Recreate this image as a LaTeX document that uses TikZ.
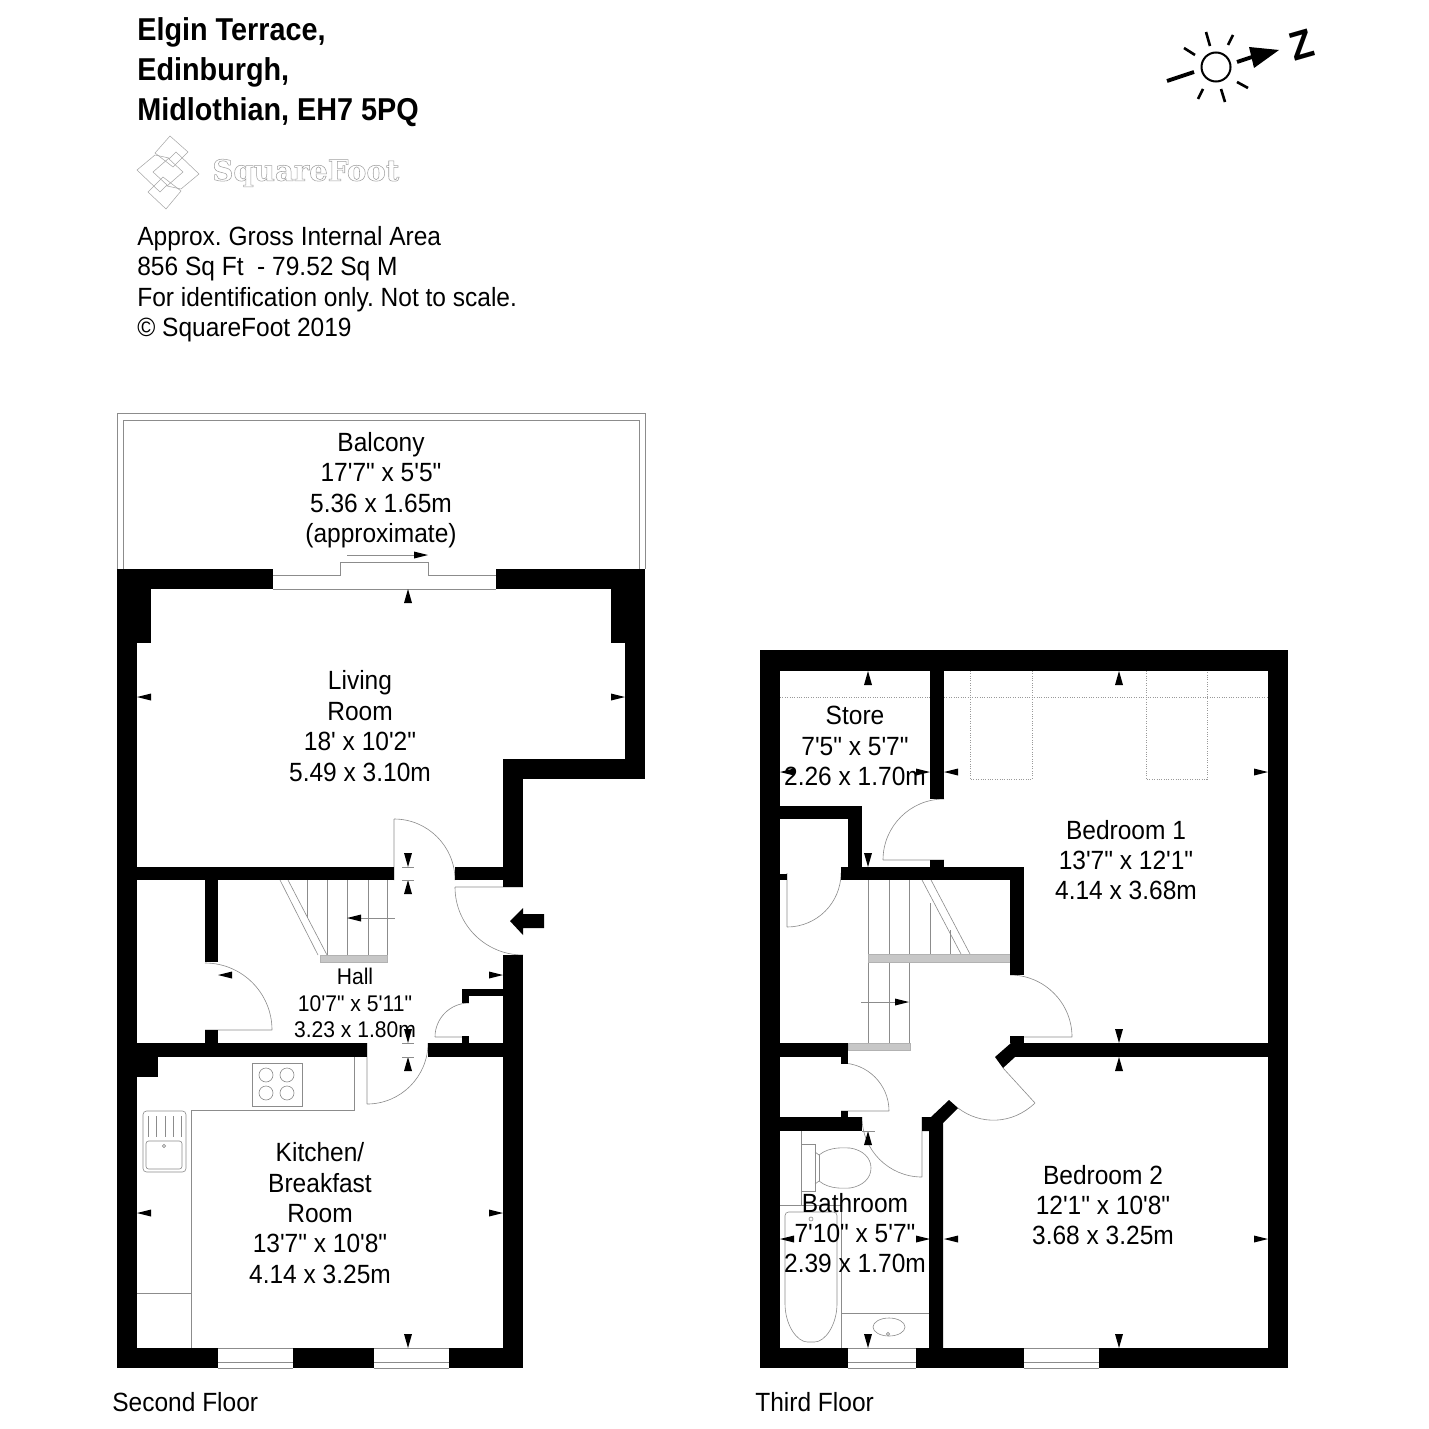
\documentclass[tikz,border=0pt]{standalone}
\usepackage{fontspec}
\setmainfont[Ligatures=TeXOff,FakeStretch=0.93]{Liberation Sans}
\newfontfamily\titlefont[FakeStretch=0.91]{Liberation Sans Bold}
\newfontfamily\logofont{DejaVu Serif}
\tikzset{
  x=0.02cm,y=-0.02cm,
  thinline/.style={draw=black!45,line width=0.35pt},
  roofline/.style={draw=black!40,line width=0.35pt,densely dotted},
  treadband/.style={fill=black!22,draw=black!30,line width=0.3pt},
  logoline/.style={draw=black!35,line width=0.3pt},
  roomlabel/.style={align=center,inner sep=0pt,font=\fontsize{15}{17.3}\selectfont},
  halllabel/.style={align=center,inner sep=0pt,font=\fontsize{12.9}{15}\selectfont},
  sidelabel/.style={align=left,inner sep=0pt,anchor=north west,font=\fontsize{15}{17.3}\selectfont\frenchspacing},
  titlelabel/.style={align=left,inner sep=0pt,anchor=north west,font=\fontsize{18}{22.8}\selectfont\titlefont},
}
\begin{document}
\begin{tikzpicture}
\useasboundingbox (0,0) rectangle (1429,1429);

% door leaf and swing: hinge x/y, swing from, swing to, radius, leaf angle
\foreach \cx/\cy/\a/\b/\r/\l in {394/880/-90/0/61/-90,523/887/180/90/68/180,205/1030/-90/0/67/0,469/1037/-90/-180/34/180,367/1043/90/0/61/90,
    944/860/-90/-180/61/180,787/873/90/0/54/90,1010/1037/-90/0/62/0,841/1111/-90/0/48/0,922/1117/90/180/60/90}{
  \draw[thinline] (\cx,\cy) -- +(\l:\r) (\cx,\cy) ++(\a:\r) arc[start angle=\a,end angle=\b,radius=\r];
}
\draw[thinline] (1003,1068) -- (1035,1103) .. controls (1012,1125) and (980,1125) .. (958,1108);

% balcony
\draw[thinline] (117,569) -- (117,413) -- (645,413) -- (645,569);
\draw[thinline] (123,569) -- (123,420) -- (639,420) -- (639,569);

% windows, second floor
\draw[thinline] (273,575) -- (340,575) -- (340,562) -- (428,562) -- (428,575) -- (496,575);
\draw[thinline] (273,589) -- (496,589);
\draw[thinline] (347,555) -- (415,555);
\foreach \xa/\xb in {218/293,374/449,848/916,1024/1099}{
  \draw[thinline] (\xa,1348) -- (\xb,1348);
  \draw[thinline] (\xa,1362) -- (\xb,1362);
  \draw[thinline] (\xa,1368) -- (\xb,1368);
}

% stairs, second floor
\foreach \x/\y in {307/918,327/955,347/955,368/955,387/955}{
  \draw[thinline] (\x,880) -- (\x,\y);
}
\draw[thinline] (280,880) -- (318,955);
\draw[thinline] (288,880) -- (327,955);
\draw[treadband] (320,955) rectangle (387,962);
\draw[thinline] (361,918) -- (395,918);

% stairs, third floor
\foreach \x in {868,889,909}{
  \draw[thinline] (\x,880) -- (\x,1043);
}
\draw[thinline] (930,903) -- (930,954);
\draw[thinline] (950,930) -- (950,954);
\draw[thinline] (922,880) -- (961,954);
\draw[thinline] (931,880) -- (970,954);
\draw[treadband] (868,954) rectangle (1010,962);
\draw[treadband] (848,1043) rectangle (910,1050);
\draw[thinline] (861,1002) -- (895,1002);

% kitchen fittings
\draw[thinline] (354,1057) -- (354,1110) -- (191,1110) -- (191,1348);
\draw[thinline] (137,1293) -- (191,1293);
\draw[thinline] (252,1063) rectangle (302,1106);
\foreach \x in {266,287}{
  \foreach \y in {1075,1093}{
    \draw[thinline] (\x,\y) circle[radius=7];
  }
}
\draw[thinline,rounded corners=2pt] (143,1111) rectangle (186,1172);
\draw[thinline,rounded corners=1.5pt] (146,1141) rectangle (182,1169);
\foreach \x in {148,156,165,173,181}{
  \draw[thinline] (\x,1116) -- (\x,1137);
}
\draw[thinline] (164,1146) circle[radius=1.6];

% bathroom fittings
\draw[thinline] (801,1131) -- (801,1205);
\draw[thinline] (801,1144) rectangle (815,1191);
\draw[thinline] (815,1152) -- (819,1155) .. controls (830,1146) and (845,1148) .. (850,1148) .. controls (863,1150) and (871,1158) .. (871,1168)
  .. controls (871,1178) and (863,1186) .. (850,1188) .. controls (845,1188) and (830,1190) .. (819,1181) -- (815,1184);
\draw[thinline] (819,1155) -- (819,1181);
\draw[thinline] (780,1205) -- (841,1205) -- (841,1348);
\draw[thinline,rounded corners=2pt] (785,1212) -- (837,1212) -- (837,1300) .. controls (837,1325) and (825,1342) .. (811,1342) .. controls (797,1342) and (785,1325) .. (785,1300) -- cycle;
\draw[thinline] (811,1219) circle[radius=2];
\draw[thinline] (841,1313) -- (930,1313);
\draw[thinline] (889,1327) ellipse[x radius=16,y radius=9];
\draw[thinline] (888,1334) circle[radius=1.6];

% sloped ceiling and roof lights
\draw[roofline] (780,697) -- (930,697);
\draw[roofline] (944,697) -- (1268,697);
\foreach \xa/\xb in {970/1032,1146/1207}{
  \draw[roofline] (\xa,671) -- (\xa,779) -- (\xb,779) -- (\xb,671);
}

% walls
\foreach \xa/\ya/\xb/\yb in {
    117/569/273/589,496/569/645/589,117/569/137/1368,137/589/151/643,611/589/645/643,625/643/645/779,503/759/625/779,503/779/523/887,
    137/867/394/880,455/867/503/880,205/880/218/962,205/1030/218/1043,137/1043/367/1057,428/1043/503/1057,137/1057/158/1077,
    503/955/523/1368,462/989/503/996,462/996/469/1003,462/1036/469/1043,117/1348/218/1368,293/1348/374/1368,449/1348/523/1368,
    760/650/1288/671,760/650/780/1368,1268/650/1288/1368,930/671/944/799,930/860/944/867,841/867/1024/880,780/806/862/819,848/806/862/880,
    780/874/787/880,1010/880/1024/975,1010/1036/1024/1043,1015/1043/1268/1057,780/1043/848/1057,841/1057/848/1064,780/1117/862/1131,
    841/1111/848/1117,760/1348/848/1368,916/1348/1024/1368,1099/1348/1288/1368}{
  \fill[black] (\xa,\ya) rectangle (\xb,\yb);
}
\fill[black] (1011,1043) -- (1025,1043) -- (1015,1057) -- (1003,1068) -- (995,1057) -- cycle;
\fill[black] (922,1117) -- (931,1117) -- (949,1100) -- (958,1108) -- (943,1123) -- (943,1348) -- (929,1348) -- (929,1131) -- (922,1131) -- cycle;

% dimension arrows, tip first
\foreach \x/\y in {408/589,408/880,408/1057,868/671,1119/671,1119/1057,868/1131}{
  \fill (\x,\y) -- (\x-4,\y+14) -- (\x+4,\y+14) -- cycle;
}
\foreach \x/\y in {408/867,408/1043,408/1348,868/867,1119/1043,868/1348,1119/1348}{
  \fill (\x,\y) -- (\x-4,\y-14) -- (\x+4,\y-14) -- cycle;
}
\foreach \x/\y in {137/697,218/975,137/1213,780/772,944/772,780/1239,944/1239}{
  \fill (\x,\y) -- (\x+14,\y-3.5) -- (\x+14,\y+3.5) -- cycle;
}
\foreach \x/\y in {625/697,503/975,503/1213,930/772,1268/772,930/1239,1268/1239,428/555,909/1002}{
  \fill (\x,\y) -- (\x-14,\y-3.5) -- (\x-14,\y+3.5) -- cycle;
}
\fill (347,918) -- (361,914.5) -- (361,921.5) -- cycle;
\foreach \x/\y/\w in {402/867/12,402/880/12,402/1043/12,402/1057/12,862/1131/13}{
  \draw[thinline] (\x,\y) -- (\x+\w,\y);
}

% entrance arrow
\fill (510,921) -- (523,908) -- (523,914) -- (544,914) -- (544,928) -- (523,928) -- (523,935) -- cycle;

% north mark
\draw[line width=1.15pt] (1216,67) circle[radius=14.5];
\draw[line width=2.2pt] (1167,81) -- (1194,72);
\foreach \xa/\ya/\xb/\yb in {1206/32/1210/46,1233/35/1228/45,1184/48/1195/55,1237/82/1248/88,1221/89/1225/102,1203/89/1198/99}{
  \draw[line width=1.5pt] (\xa,\ya) -- (\xb,\yb);
}
\draw[line width=2.2pt] (1237,62) -- (1252,57);
\fill (1279,50) -- (1249,47) -- (1254,68) -- cycle;
\node[inner sep=0pt,rotate=16,font=\fontsize{23}{23}\selectfont\bfseries] (northmark) at (1302,45) {Z};

% logo
\draw[logoline] (170,136) -- (188,152) -- (173,167) -- (155,153) -- cycle;
\draw[logoline] (155,155) -- (137,170) -- (160,192) -- (167,185) -- (153,172) -- (169,158) -- cycle;
\draw[logoline] (181,189) -- (199,174) -- (176,152) -- (169,159) -- (183,172) -- (167,186) -- cycle;
\draw[logoline] (166,209) -- (148,192) -- (163,177) -- (181,191) -- cycle;
\node[anchor=west,inner sep=0pt,font=\fontsize{16.6}{19}\selectfont\logofont\bfseries] (logoword) at (212,173)
  {\special{pdf:code q 1 Tr 0.3 w 0.62 G}SquareFoot\special{pdf:code Q}};

% labels
\node[titlelabel] (address) at (137,17) {Elgin Terrace,\\Edinburgh,\\Midlothian, EH7 5PQ};
\node[sidelabel] (areanote) at (137,226) {Approx. Gross Internal Area\\856 Sq Ft\ \ - 79.52 Sq M\\For identification only. Not to scale.\\© SquareFoot 2019};
\node[roomlabel] (balcony) at (381,490) {Balcony\\17'7" x 5'5"\\5.36 x 1.65m\\(approximate)};
\node[roomlabel] (living) at (360,726) {Living\\Room\\18' x 10'2"\\5.49 x 3.10m};
\node[halllabel] (hall) at (355,1003) {Hall\\10'7" x 5'11"\\3.23 x 1.80m};
\node[roomlabel] (kitchen) at (320,1213) {Kitchen/\\Breakfast\\Room\\13'7" x 10'8"\\4.14 x 3.25m};
\node[roomlabel] (store) at (855,746) {Store\\7'5" x 5'7"\\2.26 x 1.70m};
\node[roomlabel] (bedroomone) at (1126,860) {Bedroom 1\\13'7" x 12'1"\\4.14 x 3.68m};
\node[roomlabel] (bedroomtwo) at (1103,1205) {Bedroom 2\\12'1" x 10'8"\\3.68 x 3.25m};
\node[roomlabel] (bathroom) at (855,1233) {Bathroom\\7'10" x 5'7"\\2.39 x 1.70m};
\node[anchor=west,inner sep=0pt,font=\fontsize{15}{17.3}\selectfont] (secondfloor) at (112,1402) {Second Floor};
\node[anchor=west,inner sep=0pt,font=\fontsize{15}{17.3}\selectfont] (thirdfloor) at (755,1402) {Third Floor};
\end{tikzpicture}
\end{document}
